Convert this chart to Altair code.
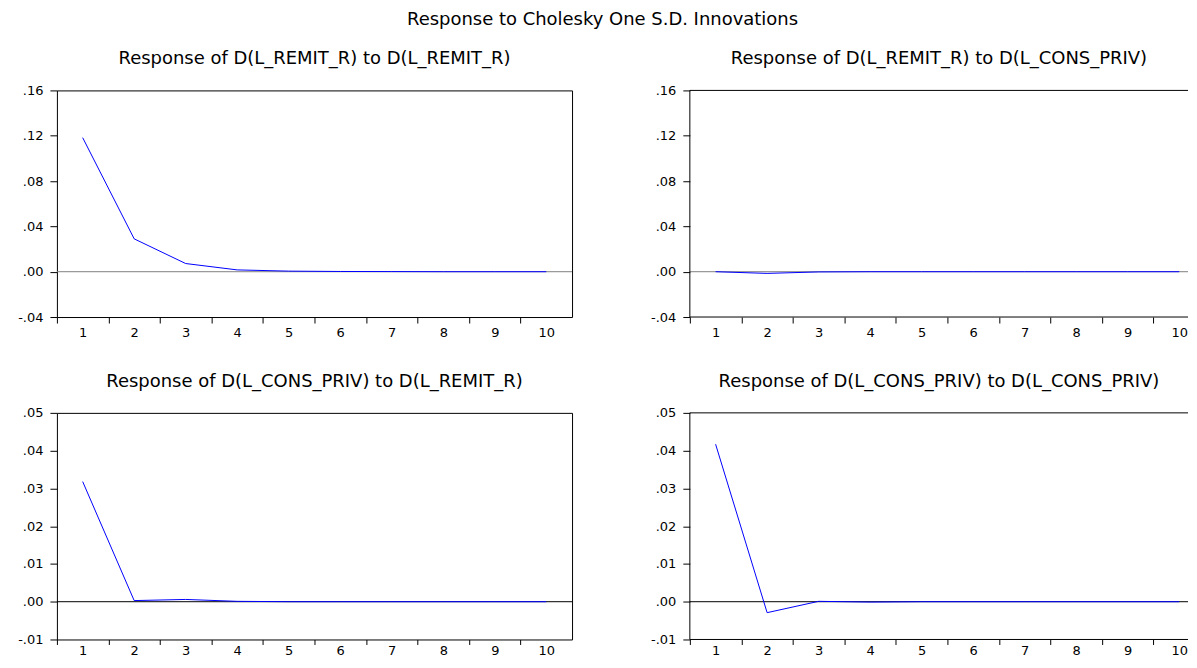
import altair as alt
import pandas as pd

# ---- data ----
steps = [1, 2, 3, 4, 5, 6, 7, 8, 9, 10]
remit_to_remit = [0.1183, 0.0290, 0.0072, 0.0016, 0.0005, 0.0002, 0.0001, 0.0, 0.0, 0.0]
remit_to_cons = [0.0, -0.0015, -0.0002, 0.0, 0.0, 0.0, 0.0, 0.0, 0.0, 0.0]
cons_to_remit = [0.0318, 0.0003, 0.0006, 0.0001, 0.0, 0.0, 0.0, 0.0, 0.0, 0.0]
cons_to_cons = [0.0417, -0.0029, 0.0001, -0.0001, 0.0, 0.0, 0.0, 0.0, 0.0, 0.0]

top_yticks = [-0.04, 0.0, 0.04, 0.08, 0.12, 0.16]
bottom_yticks = [-0.01, 0.0, 0.01, 0.02, 0.03, 0.04, 0.05]
x_tick_marks = [0.5, 1.5, 2.5, 3.5, 4.5, 5.5, 6.5, 7.5, 8.5, 9.5]

main_title = "Response to Cholesky One S.D. Innovations"
titles = [
    "Response of D(L_REMIT_R) to D(L_REMIT_R)",
    "Response of D(L_REMIT_R) to D(L_CONS_PRIV)",
    "Response of D(L_CONS_PRIV) to D(L_REMIT_R)",
    "Response of D(L_CONS_PRIV) to D(L_CONS_PRIV)",
]

FONT = "DejaVu Sans"
PW = 516          # full plot width of a panel
PW_RIGHT = 499    # visible width of right-hand panels (cut by the page edge)
STEP_PX = PW / 10


def panel(values, title, yticks, ydomain, zero_color, height, right, bottom_row, title_offset):
    df = pd.DataFrame({"step": steps, "value": values})
    width = PW_RIGHT if right else PW
    xmax = 0.5 + width / STEP_PX
    xscale = alt.Scale(domain=[0.5, xmax], nice=False, zero=False)
    ext = 18 if bottom_row else 25
    x = alt.X(
        "step:Q",
        scale=xscale,
        axis=alt.Axis(
            values=x_tick_marks,
            title=None, grid=False, domain=False,
            tickSize=5 if bottom_row else 6, labelPadding=0 if bottom_row else 4,
            labelOffset=STEP_PX / 2,
            labelExpr="toString(datum.value + 0.5)",
            labelOverlap=False, labelFlush=False, minExtent=ext, maxExtent=ext,
            tickCount=len(x_tick_marks),
        ),
    )
    y = alt.Y(
        "value:Q",
        scale=alt.Scale(domain=ydomain, nice=False, zero=False),
        axis=alt.Axis(
            values=yticks, title=None, grid=False, domain=False,
            tickSize=7, labelPadding=7, tickCount=len(yticks),
            labelExpr="(datum.value < 0 ? '-' : '') + replace(format(abs(datum.value), '.2f'), '0.', '.')",
            labelOverlap=False, labelFlush=False, minExtent=40, maxExtent=40,
        ),
    )
    zero = alt.Chart(pd.DataFrame({"value": [0.0]})).mark_rule(
        color=zero_color, strokeWidth=1
    ).encode(y=alt.Y("value:Q"))
    line = alt.Chart(df).mark_line(color="#0000ff", strokeWidth=1).encode(x=x, y=y)
    layers = [zero, line]
    props = dict(
        width=width,
        height=height,
        title=alt.TitleParams(title, fontSize=18, fontWeight="normal", offset=title_offset, anchor="middle"),
    )
    if right:
        frame_h = alt.Chart(pd.DataFrame({"value": [ydomain[0], ydomain[1]]})).mark_rule(
            color="black", strokeWidth=1
        ).encode(y=alt.Y("value:Q"))
        frame_v = alt.Chart(pd.DataFrame({"step": [0.5]})).mark_rule(
            color="black", strokeWidth=1
        ).encode(x=alt.X("step:Q"))
        layers = [zero, frame_h, frame_v, line]
        props["view"] = alt.ViewBackground(strokeOpacity=0)
    return alt.layer(*layers).properties(**props)


p11 = panel(remit_to_remit, titles[0], top_yticks, [-0.04, 0.16], "#808080", 227, False, False, 16)
p12 = panel(remit_to_cons, titles[1], top_yticks, [-0.04, 0.16], "#808080", 227, True, False, 16)
p21 = panel(cons_to_remit, titles[2], bottom_yticks, [-0.01, 0.05], "black", 227, False, True, 16)
p22 = panel(cons_to_cons, titles[3], bottom_yticks, [-0.01, 0.05], "black", 227, True, True, 16)

chart = (
    alt.vconcat(
        alt.hconcat(p11, p12, spacing=77),
        alt.hconcat(p21, p22, spacing=77),
        spacing=29,
    )
    .properties(
        title=alt.TitleParams(main_title, fontSize=18, fontWeight="normal", offset=11, dy=-10, anchor="middle"),
        padding={"left": 8, "top": 2, "right": 0, "bottom": 0},
    )
    .configure(font=FONT)
    .configure_view(stroke="black", strokeWidth=1)
    .configure_axis(labelFont=FONT, labelFontSize=13, labelColor="black", tickColor="black", tickWidth=1)
    .configure_title(font=FONT, color="black")
)

chart.save("out.html", embed_options={"renderer": "svg", "actions": False})
